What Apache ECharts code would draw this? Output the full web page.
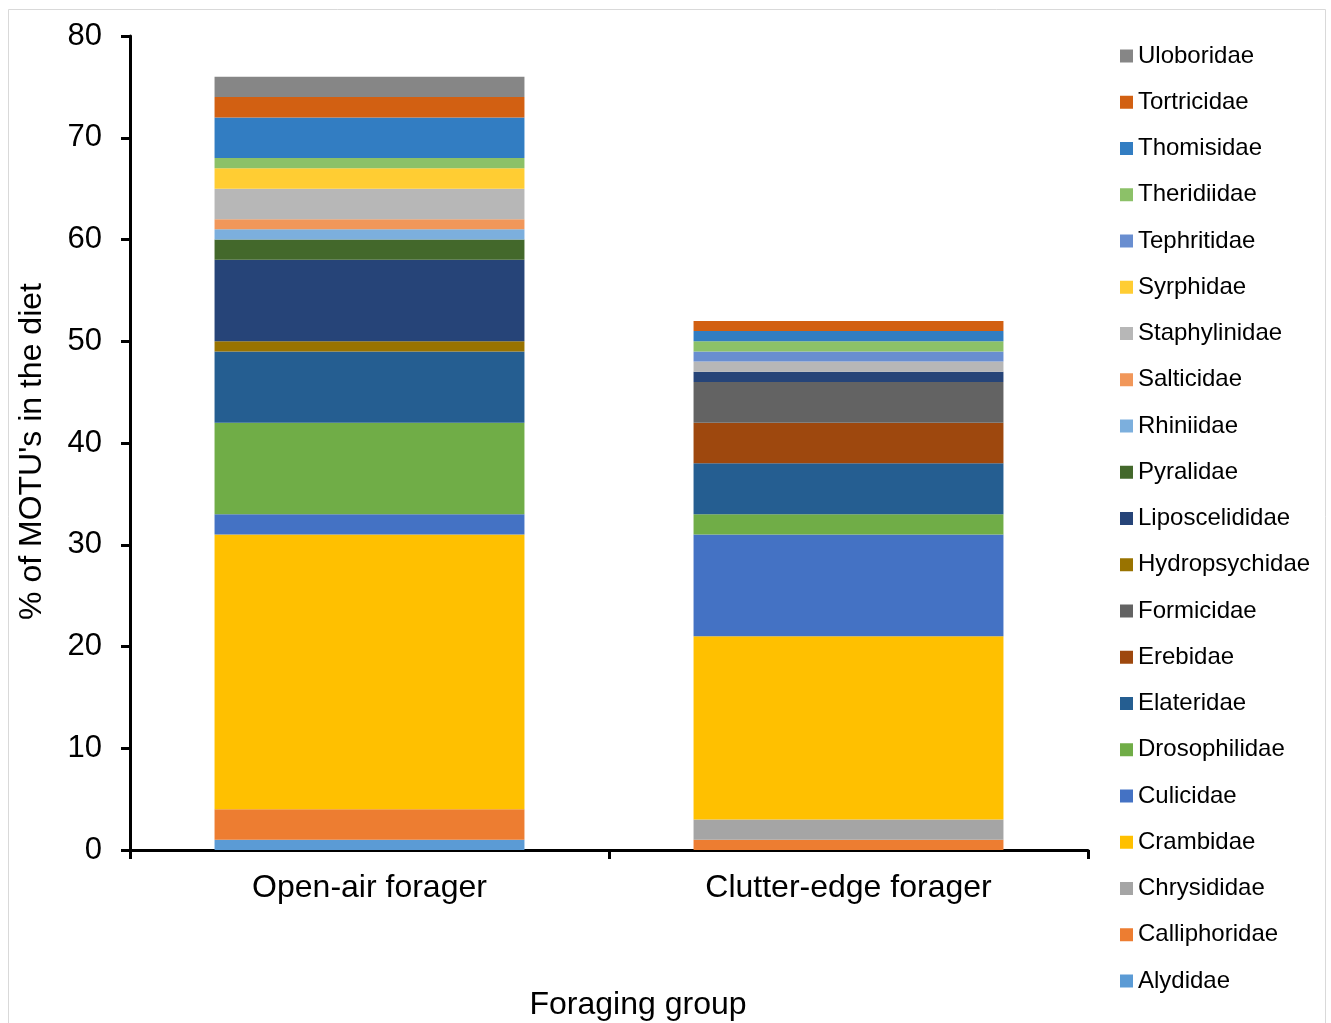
<!DOCTYPE html>
<html>
<head>
<meta charset="utf-8">
<script src="https://cdn.jsdelivr.net/npm/echarts@6/dist/echarts.min.js"></script>
<style>
  html, body { margin: 0; padding: 0; background: #fff; }
  #chart { width: 1331px; height: 1023px; }
</style>
</head>
<body>
<div id="chart"></div>
<script>
// Foraging groups on the x axis
const groups = ['Open-air forager', 'Clutter-edge forager'];

// Prey families, in stacking order (bottom to top)
const families = [
  'Alydidae', 'Calliphoridae', 'Chrysididae', 'Crambidae', 'Culicidae',
  'Drosophilidae', 'Elateridae', 'Erebidae', 'Formicidae', 'Hydropsychidae',
  'Liposcelididae', 'Pyralidae', 'Rhiniidae', 'Salticidae', 'Staphylinidae',
  'Syrphidae', 'Tephritidae', 'Theridiidae', 'Thomisidae', 'Tortricidae',
  'Uloboridae'
];

// % of MOTUs per family: [open-air, clutter-edge]
const Alydidae       = [1, 0];
const Calliphoridae  = [3, 1];
const Chrysididae    = [0, 2];
const Crambidae      = [27, 18];
const Culicidae      = [2, 10];
const Drosophilidae  = [9, 2];
const Elateridae     = [7, 5];
const Erebidae       = [0, 4];
const Formicidae     = [0, 4];
const Hydropsychidae = [1, 0];
const Liposcelididae = [8, 1];
const Pyralidae      = [2, 0];
const Rhiniidae      = [1, 0];
const Salticidae     = [1, 0];
const Staphylinidae  = [3, 1];
const Syrphidae      = [2, 0];
const Tephritidae    = [0, 1];
const Theridiidae    = [1, 1];
const Thomisidae     = [4, 1];
const Tortricidae    = [2, 1];
const Uloboridae     = [2, 0];

const values = {
  Alydidae, Calliphoridae, Chrysididae, Crambidae, Culicidae, Drosophilidae,
  Elateridae, Erebidae, Formicidae, Hydropsychidae, Liposcelididae, Pyralidae,
  Rhiniidae, Salticidae, Staphylinidae, Syrphidae, Tephritidae, Theridiidae,
  Thomisidae, Tortricidae, Uloboridae
};

const colors = {
  Alydidae: '#5B9BD5', Calliphoridae: '#ED7D31', Chrysididae: '#A5A5A5',
  Crambidae: '#FFC000', Culicidae: '#4472C4', Drosophilidae: '#70AD47',
  Elateridae: '#255E91', Erebidae: '#9E480E', Formicidae: '#636363',
  Hydropsychidae: '#997300', Liposcelididae: '#264478', Pyralidae: '#43682B',
  Rhiniidae: '#7CAFDD', Salticidae: '#F1975A', Staphylinidae: '#B7B7B7',
  Syrphidae: '#FFCD33', Tephritidae: '#698ED0', Theridiidae: '#8CC168',
  Thomisidae: '#327DC2', Tortricidae: '#D26012', Uloboridae: '#868686'
};

const yTicks = { min: 0, max: 80, interval: 10 };

const FONT = '"Liberation Sans", Arial, sans-serif';

const chart = echarts.init(document.getElementById('chart'), null, { renderer: 'canvas' });

chart.setOption({
  animation: false,
  backgroundColor: '#fff',
  textStyle: { fontFamily: FONT, color: '#000' },
  graphic: [{
    type: 'rect',
    shape: { x: 8.5, y: 9.5, width: 1317, height: 1030 },
    style: { fill: 'none', stroke: '#D9D9D9', lineWidth: 1 },
    silent: true
  }],
  grid: {
    left: 130, top: 36, right: 243, bottom: 173,
    containLabel: false,
    outerBoundsMode: 'none'
  },
  legend: {
    orient: 'vertical',
    left: 1120,
    top: 42,
    padding: 0,
    icon: 'rect',
    itemWidth: 13,
    itemHeight: 13,
    itemGap: 18.25,
    data: families.slice().reverse(),
    textStyle: { fontFamily: FONT, fontSize: 24, color: '#000', lineHeight: 28, padding: [0, 0, 0, 0] },
    selectedMode: false
  },
  xAxis: {
    type: 'category',
    data: groups,
    name: 'Foraging group',
    nameLocation: 'middle',
    nameGap: 139,
    nameTextStyle: { fontFamily: FONT, fontSize: 32, color: '#000', padding: [0, 0, 0, 58] },
    axisLine: { lineStyle: { color: '#000', width: 3 } },
    axisTick: { show: true, length: 9, lineStyle: { color: '#000', width: 3 } },
    axisLabel: { fontFamily: FONT, fontSize: 32, color: '#000', margin: 22 }
  },
  yAxis: {
    type: 'value',
    min: yTicks.min,
    max: yTicks.max,
    interval: yTicks.interval,
    name: "% of MOTU's in the diet",
    nameLocation: 'middle',
    nameGap: 82,
    nameTextStyle: { fontFamily: FONT, fontSize: 32, color: '#000', padding: [0, 17, 0, 0] },
    axisLine: { show: true, lineStyle: { color: '#000', width: 3 } },
    axisTick: { show: true, length: 9, lineStyle: { color: '#000', width: 3 } },
    axisLabel: { fontFamily: FONT, fontSize: 31, color: '#000', margin: 28 },
    splitLine: { show: false }
  },
  series: families.map(name => ({
    name,
    type: 'bar',
    stack: 'diet',
    barWidth: '64.7%',
    data: values[name],
    itemStyle: { color: colors[name] },
    emphasis: { disabled: true }
  }))
});
</script>
</body>
</html>
